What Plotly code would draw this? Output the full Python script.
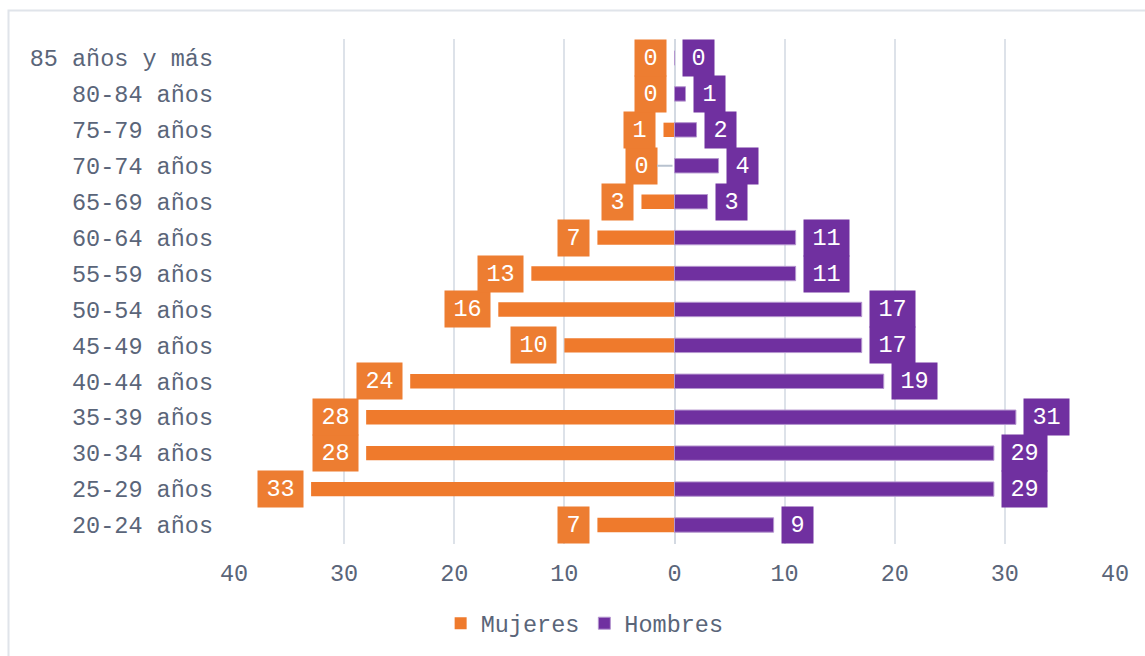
import plotly.graph_objects as go

# ---------------------------------------------------------------------------
# Data — population pyramid by age group
# ---------------------------------------------------------------------------
grupos = [
    "20-24 años", "25-29 años", "30-34 años", "35-39 años", "40-44 años",
    "45-49 años", "50-54 años", "55-59 años", "60-64 años", "65-69 años",
    "70-74 años", "75-79 años", "80-84 años", "85 años y más",
]
mujeres = [7, 33, 28, 28, 24, 10, 16, 13, 7, 3, 0, 1, 0, 0]
hombres = [9, 29, 29, 31, 19, 17, 17, 11, 11, 3, 4, 2, 1, 0]

tick_vals = [-40, -30, -20, -10, 0, 10, 20, 30, 40]
tick_text = ["40", "30", "20", "10", "0", "10", "20", "30", "40"]

NARANJA = "#ED7D31"
MORADO  = "#7030A0"
TEXTO   = "#5A6579"
GRID    = "#DDE2E9"
FONT    = "Liberation Mono, Courier New, monospace"
FS      = 23.5

fig = go.Figure()

fig.add_trace(go.Bar(
    y=grupos, x=[-v for v in mujeres], name="Mujeres", orientation="h",
    marker=dict(color="#EF7A2C", line=dict(width=0)),
    hoverinfo="skip",
))
fig.add_trace(go.Bar(
    y=grupos, x=hombres, name="Hombres", orientation="h",
    marker=dict(color=MORADO, line=dict(color="#B596CF", width=1)),
    hoverinfo="skip",
))

# Data labels: coloured boxes just beyond the bar ends
def box_width(v):
    return 14 * len(str(v)) + 17

annotations = []
for g, v in zip(grupos, mujeres):
    ann = dict(
        x=-v, y=g, xref="x", yref="y", text=str(v), showarrow=False,
        xanchor="right", xshift=-7.5, bgcolor=NARANJA, borderpad=0,
        width=box_width(v), height=36, align="center",
        font=dict(family=FONT, size=FS, color="white"),
    )
    if g == "70-74 años":
        # label pushed aside, with a leader line back to the axis
        ann.update(showarrow=True, arrowhead=0, arrowcolor="#B8C2CF",
                   arrowwidth=2, ax=-33.5, ay=0, standoff=2,
                   xanchor="center", xshift=0)
    annotations.append(ann)
for g, v in zip(grupos, hombres):
    annotations.append(dict(
        x=v, y=g, xref="x", yref="y", text=str(v), showarrow=False,
        xanchor="left", xshift=7.5, bgcolor=MORADO, borderpad=0,
        width=box_width(v), height=36, align="center",
        font=dict(family=FONT, size=FS, color="white"),
    ))

fig.update_layout(
    width=1145, height=656,
    barmode="overlay", bargap=0.6,
    paper_bgcolor="white", plot_bgcolor="white",
    font=dict(family=FONT, size=FS, color=TEXTO),
    margin=dict(l=234, r=30, t=39, b=111),
    annotations=annotations,
    legend=dict(
        orientation="h", x=0.398, xanchor="center", y=-0.155, yanchor="middle",
        font=dict(family=FONT, size=FS, color=TEXTO),
        itemwidth=30, tracegroupgap=0,
    ),
    shapes=[dict(
        type="rect", xref="paper", yref="paper",
        x0=(8.5 - 234) / 881, x1=(1150 - 234) / 881,
        y0=(545 - 660) / 506, y1=(545 - 10.5) / 506,
        line=dict(color="#E0E4EA", width=2), layer="below",
    )],
)

fig.update_xaxes(
    range=[-40, 40], tickvals=tick_vals, ticktext=tick_text,
    showgrid=True, gridcolor=GRID, gridwidth=2,
    zeroline=True, zerolinecolor="#D3D9E2", zerolinewidth=2,
    showline=False, ticks="", fixedrange=True, ticklabelstandoff=12,
    tickfont=dict(family=FONT, size=FS, color=TEXTO),
)
fig.update_yaxes(
    categoryorder="array", categoryarray=grupos,
    showgrid=False, showline=False, ticks="", ticklabelstandoff=20,
    tickfont=dict(family=FONT, size=FS, color=TEXTO),
)

fig.write_html("out.html", config={"displayModeBar": False},
               post_script="document.body.style.margin='0';")
